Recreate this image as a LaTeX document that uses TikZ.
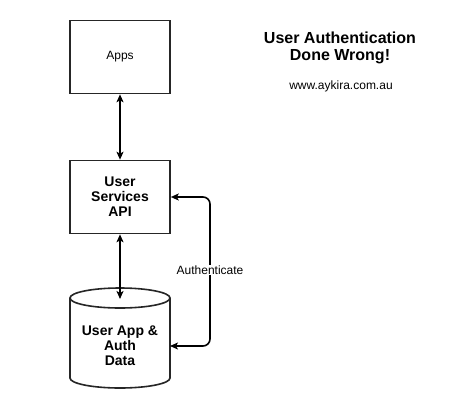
\documentclass[tikz,border=0pt]{standalone}
\usepackage{fontspec}
\setmainfont{Liberation Sans}
\usetikzlibrary{arrows.meta}
\begin{document}
\begin{tikzpicture}[x=1pt,y=-1pt,
  boxst/.style={draw=black!85,line width=1.6pt,fill=white,minimum width=100pt,minimum height=73pt,inner sep=0pt,align=center},
  conn/.style={line width=1.6pt,{Stealth[length=8pt,width=7pt,inset=2pt]}-{Stealth[length=8pt,width=7pt,inset=2pt]}},
  normtxt/.style={font=\fontsize{12}{14}\selectfont},
  boldtxt/.style={font=\fontsize{14}{15}\selectfont\bfseries,align=center}]
\useasboundingbox (0,0) rectangle (458,410);
\fill[white] (0,0) rectangle (458,410);
% boxes
\node[boxst,normtxt] (apps) at (120,57) {Apps};
\node[boxst,boldtxt] (api) at (120,197) {User\\Services\\API};
% cylinder
\draw[line width=1.6pt,draw=black!85,fill=white]
  (70,298) arc[start angle=180,end angle=360,x radius=50,y radius=10]
  -- (170,378) arc[start angle=0,end angle=180,x radius=50,y radius=10] -- cycle;
\draw[line width=1.6pt,draw=black!85] (70,298) arc[start angle=180,end angle=0,x radius=50,y radius=10];
\node[boldtxt] (data) at (120,346) {User App \&\\Auth\\Data};
\coordinate (cylright) at (170,346);
\coordinate (cylin) at (120,299);
% connectors
\draw[conn] (apps.south) -- (api.north);
\draw[conn] (api.south) -- (cylin);
\draw[conn,rounded corners=7pt] (api.east) -- (210,197) -- (210,346) -- (cylright);
\node[normtxt,fill=white,inner sep=1pt] (auth) at (210,270) {Authenticate};
% title
\node[font=\fontsize{16}{17}\selectfont\bfseries,align=center] (title) at (340,48) {User Authentication\\Done Wrong!};
\node[normtxt] (url) at (341,86) {www.aykira.com.au};
\end{tikzpicture}
\end{document}
